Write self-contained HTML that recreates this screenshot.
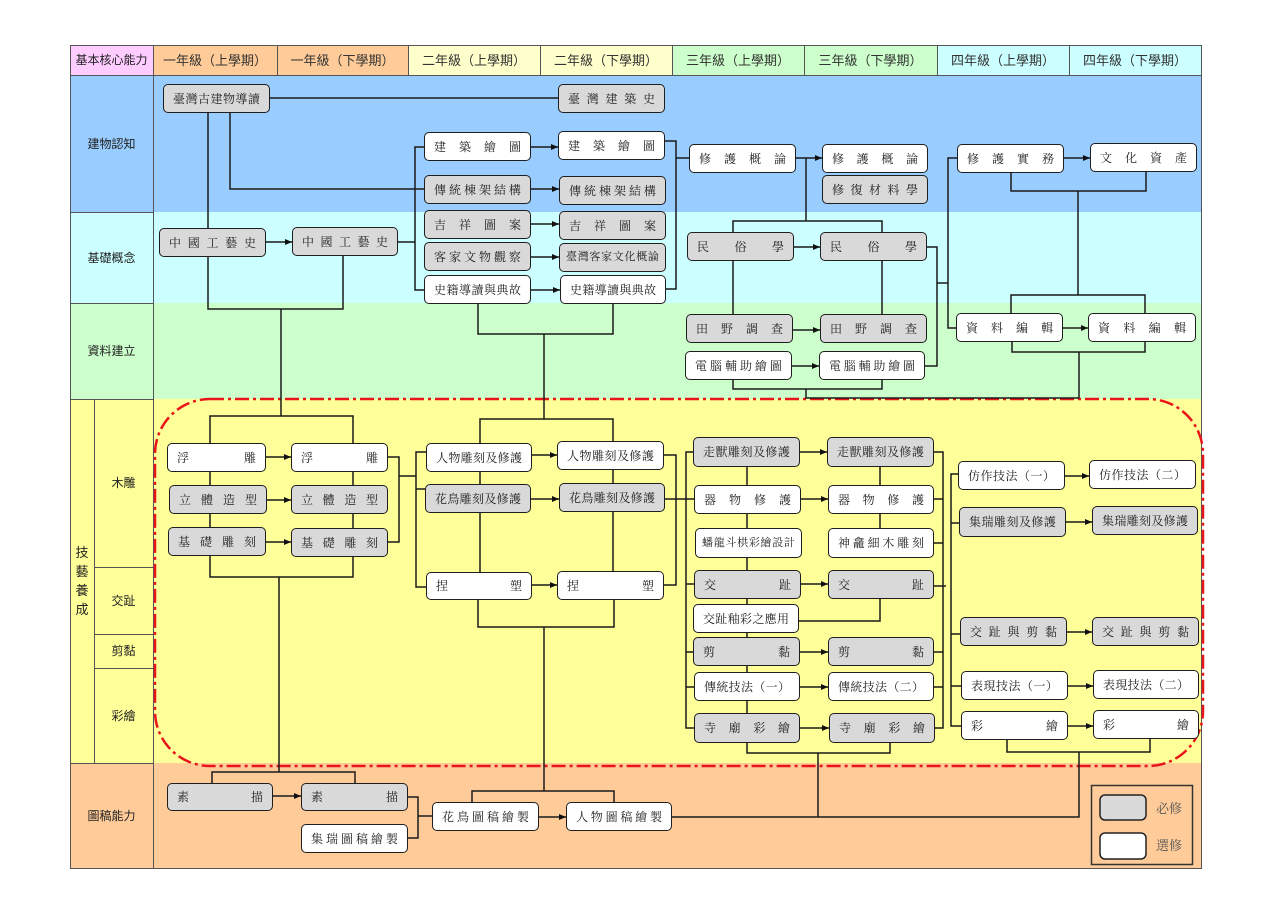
<!DOCTYPE html>
<html><head><meta charset="utf-8">
<style>
html,body{margin:0;padding:0;background:#fff;}
body{width:1280px;height:905px;position:relative;overflow:hidden;}
svg{position:absolute;left:0;top:0;}
.n{position:absolute;box-sizing:border-box;border:1.5px solid #1e1e1e;border-radius:5px;display:flex;justify-content:space-between;align-items:center;padding:0 9px;font-size:12px;font-family:"Liberation Serif","Noto Serif CJK SC",serif;color:#222;line-height:1;}
.n i{font-style:normal;}
.g{background:#d9d9d9;}
.w{background:#fff;}
.s{padding:0 6px;font-size:11px;}
.l{position:absolute;display:flex;align-items:center;justify-content:center;font-family:"Liberation Sans","Noto Sans CJK TC",sans-serif;color:#222;font-size:12px;line-height:1;}
.h{font-size:13px;color:#333;}
</style></head><body>
<svg width="1280" height="905" viewBox="0 0 1280 905">
<defs><marker id="a" markerWidth="8" markerHeight="8" refX="7" refY="4" orient="auto" markerUnits="userSpaceOnUse"><path d="M0,1 L7,4 L0,7z" fill="#111"/></marker></defs>
<rect x="70" y="45" width="83" height="30" fill="#ffccff"/>
<rect x="153" y="45" width="255" height="30" fill="#ffcc99"/>
<rect x="408" y="45" width="264" height="30" fill="#ffffcc"/>
<rect x="672" y="45" width="265" height="30" fill="#ccffcc"/>
<rect x="937" y="45" width="264" height="30" fill="#ccffff"/>
<rect x="70" y="75" width="1131" height="137" fill="#99ccff"/>
<rect x="70" y="212" width="1131" height="91" fill="#ccffff"/>
<rect x="70" y="303" width="1131" height="96" fill="#ccffcc"/>
<rect x="70" y="399" width="1131" height="364" fill="#ffff99"/>
<rect x="70" y="763" width="1131" height="105" fill="#ffcc99"/>
<g stroke="#555" stroke-width="1" fill="none">
<rect x="70.5" y="45.5" width="1131" height="823"/>
<path d="M70,75.5H1201 M153.5,45V868 M277.5,45V75 M408.5,45V75 M540.5,45V75 M672.5,45V75 M804.5,45V75 M937.5,45V75 M1069.5,45V75 M70,212.5H153 M70,303.5H153 M70,399.5H153 M70,763.5H153 M94.5,399V763 M94,567.5H153 M94,634.5H153 M94,668.5H153"/>
</g>
<rect x="155" y="399" width="1048" height="367" rx="55" fill="none" stroke="#e8161b" stroke-width="2.5" stroke-dasharray="14 4 3 4"/>
<g stroke="#1a1a1a" stroke-width="1.5" fill="none">
<path d="M270,98H558 M208,113V228 M230,113V189H424 M398,242H415 M424,147H415V290H424 M665,141H676V289H666 M676,158H689 M806,158V221 M733,232V221H882V232 M733,261V314 M882,261V314 M733,380V389H882V380 M806,389V398H1079 M1012,342V352H1145V342 M1079,352V398 M927,247H937V366H925 M937,283H948 M957,158H948V328H956 M1011,173V191H1146V172 M1078,191V295 M1011,313V295H1145V313"/>
<path d="M208,257V309H343V256 M281,309V416 M210,443V416H353V443 M210,472V527 M353,472V528 M210,556V577H353V557 M279,577V772 M212,783V772H355V783 M388,457H399V542H388 M399,476H416 M426,452H416V587H426 M416,489H425 M480,472V572 M613,470V571 M478,304V334H613V304 M544,334V419 M480,443V419H613V441 M478,600V627H614V600 M544,627V791 M472,802V791H614V802"/>
<path d="M664,455H676V585H664 M665,499H694 M693,452H686V728H694 M686,584H694 M686,652H693 M686,687H694 M747,467V713 M880,467V528 M880,599V621H799 M747,743V753H890V743 M818,753V817 M672,817H1079V752 M1007,740V752H1150V739 M934,452H943V728H935 M934,499H943 M934,543H943 M934,586H946 M934,652H943 M934,687H943 M958,474H951V726H961 M951,523H959 M951,634H960 M951,686H961 M408,797H418V838H408 M418,816H432"/>
</g>
<g stroke="#1a1a1a" stroke-width="1.5" fill="none">
<path marker-end="url(#a)" d="M266,242H292"/>
<path marker-end="url(#a)" d="M531,147H558"/>
<path marker-end="url(#a)" d="M531,189H559"/>
<path marker-end="url(#a)" d="M531,224H559"/>
<path marker-end="url(#a)" d="M531,257H559"/>
<path marker-end="url(#a)" d="M531,290H560"/>
<path marker-end="url(#a)" d="M796,158H822"/>
<path marker-end="url(#a)" d="M794,247H820"/>
<path marker-end="url(#a)" d="M793,330H820"/>
<path marker-end="url(#a)" d="M792,366H819"/>
<path marker-end="url(#a)" d="M1064,158H1090"/>
<path marker-end="url(#a)" d="M1063,328H1088"/>
<path marker-end="url(#a)" d="M266,457H291"/>
<path marker-end="url(#a)" d="M267,500H291"/>
<path marker-end="url(#a)" d="M266,542H291"/>
<path marker-end="url(#a)" d="M532,455H557"/>
<path marker-end="url(#a)" d="M531,499H559"/>
<path marker-end="url(#a)" d="M532,585H557"/>
<path marker-end="url(#a)" d="M800,452H827"/>
<path marker-end="url(#a)" d="M801,499H828"/>
<path marker-end="url(#a)" d="M801,584H828"/>
<path marker-end="url(#a)" d="M800,652H828"/>
<path marker-end="url(#a)" d="M800,687H828"/>
<path marker-end="url(#a)" d="M800,728H829"/>
<path marker-end="url(#a)" d="M1065,476H1089"/>
<path marker-end="url(#a)" d="M1066,522H1092"/>
<path marker-end="url(#a)" d="M1067,632H1092"/>
<path marker-end="url(#a)" d="M1068,686H1093"/>
<path marker-end="url(#a)" d="M1068,726H1093"/>
<path marker-end="url(#a)" d="M273,796H301"/>
<path marker-end="url(#a)" d="M539,817H566"/>
</g>
<rect x="1091.5" y="785.5" width="101" height="79" fill="none" stroke="#333" stroke-width="1.5"/>
<rect x="1100" y="795" width="46" height="25" rx="5" fill="#d9d9d9" stroke="#222" stroke-width="1.5"/>
<rect x="1100" y="833" width="46" height="26" rx="5" fill="#fff" stroke="#222" stroke-width="1.5"/>
</svg>

<!-- header -->
<div class="l" style="left:70px;top:45px;width:83px;height:30px;">基本核心能力</div>
<div class="l h" style="left:153px;top:45px;width:124px;height:30px;">一年級（上學期）</div>
<div class="l h" style="left:277px;top:45px;width:131px;height:30px;">一年級（下學期）</div>
<div class="l h" style="left:408px;top:45px;width:132px;height:30px;">二年級（上學期）</div>
<div class="l h" style="left:540px;top:45px;width:132px;height:30px;">二年級（下學期）</div>
<div class="l h" style="left:672px;top:45px;width:132px;height:30px;">三年級（上學期）</div>
<div class="l h" style="left:804px;top:45px;width:133px;height:30px;">三年級（下學期）</div>
<div class="l h" style="left:937px;top:45px;width:132px;height:30px;">四年級（上學期）</div>
<div class="l h" style="left:1069px;top:45px;width:132px;height:30px;">四年級（下學期）</div>

<!-- left labels -->
<div class="l" style="left:70px;top:75px;width:83px;height:137px;">建物認知</div>
<div class="l" style="left:70px;top:212px;width:83px;height:91px;">基礎概念</div>
<div class="l" style="left:70px;top:303px;width:83px;height:96px;">資料建立</div>
<div class="l" style="left:70px;top:399px;width:24px;height:364px;font-size:13px;line-height:19px;text-align:center;">技<br>藝<br>養<br>成</div>
<div class="l" style="left:94px;top:399px;width:59px;height:168px;">木雕</div>
<div class="l" style="left:94px;top:567px;width:59px;height:67px;">交趾</div>
<div class="l" style="left:94px;top:634px;width:59px;height:34px;">剪黏</div>
<div class="l" style="left:94px;top:668px;width:59px;height:95px;">彩繪</div>
<div class="l" style="left:70px;top:763px;width:83px;height:105px;">圖稿能力</div>

<!-- legend -->
<div class="l" style="left:1150px;top:797px;width:38px;height:22px;font-family:'Liberation Serif','Noto Serif CJK SC',serif;font-size:13px;color:#555;">必修</div>
<div class="l" style="left:1150px;top:834px;width:38px;height:22px;font-family:'Liberation Serif','Noto Serif CJK SC',serif;font-size:13px;color:#555;">選修</div>

<!-- 建物認知 -->
<div class="n g" style="left:163px;top:84px;width:107px;height:29px;"><i>臺</i><i>灣</i><i>古</i><i>建</i><i>物</i><i>導</i><i>讀</i></div>
<div class="n g" style="left:558px;top:84px;width:107px;height:29px;"><i>臺</i><i>灣</i><i>建</i><i>築</i><i>史</i></div>
<div class="n w" style="left:424px;top:132px;width:107px;height:29px;"><i>建</i><i>築</i><i>繪</i><i>圖</i></div>
<div class="n w" style="left:558px;top:131px;width:107px;height:29px;"><i>建</i><i>築</i><i>繪</i><i>圖</i></div>
<div class="n g" style="left:424px;top:175px;width:107px;height:29px;"><i>傳</i><i>統</i><i>棟</i><i>架</i><i>結</i><i>構</i></div>
<div class="n g" style="left:559px;top:176px;width:107px;height:29px;"><i>傳</i><i>統</i><i>棟</i><i>架</i><i>結</i><i>構</i></div>
<div class="n w" style="left:689px;top:144px;width:107px;height:29px;"><i>修</i><i>護</i><i>概</i><i>論</i></div>
<div class="n w" style="left:822px;top:144px;width:106px;height:29px;"><i>修</i><i>護</i><i>概</i><i>論</i></div>
<div class="n g" style="left:822px;top:175px;width:106px;height:29px;"><i>修</i><i>復</i><i>材</i><i>料</i><i>學</i></div>
<div class="n w" style="left:957px;top:144px;width:107px;height:29px;"><i>修</i><i>護</i><i>實</i><i>務</i></div>
<div class="n w" style="left:1090px;top:143px;width:107px;height:29px;"><i>文</i><i>化</i><i>資</i><i>產</i></div>

<!-- 基礎概念 -->
<div class="n g" style="left:159px;top:228px;width:107px;height:29px;"><i>中</i><i>國</i><i>工</i><i>藝</i><i>史</i></div>
<div class="n g" style="left:292px;top:227px;width:106px;height:29px;"><i>中</i><i>國</i><i>工</i><i>藝</i><i>史</i></div>
<div class="n g" style="left:424px;top:210px;width:107px;height:29px;"><i>吉</i><i>祥</i><i>圖</i><i>案</i></div>
<div class="n g" style="left:559px;top:211px;width:107px;height:29px;"><i>吉</i><i>祥</i><i>圖</i><i>案</i></div>
<div class="n g" style="left:424px;top:242px;width:107px;height:29px;"><i>客</i><i>家</i><i>文</i><i>物</i><i>觀</i><i>察</i></div>
<div class="n g s" style="left:559px;top:243px;width:107px;height:29px;"><i>臺</i><i>灣</i><i>客</i><i>家</i><i>文</i><i>化</i><i>概</i><i>論</i></div>
<div class="n w" style="left:424px;top:275px;width:107px;height:29px;"><i>史</i><i>籍</i><i>導</i><i>讀</i><i>與</i><i>典</i><i>故</i></div>
<div class="n w" style="left:560px;top:275px;width:106px;height:29px;"><i>史</i><i>籍</i><i>導</i><i>讀</i><i>與</i><i>典</i><i>故</i></div>
<div class="n g" style="left:687px;top:232px;width:107px;height:29px;"><i>民</i><i>俗</i><i>學</i></div>
<div class="n g" style="left:820px;top:232px;width:107px;height:29px;"><i>民</i><i>俗</i><i>學</i></div>

<!-- 資料建立 -->
<div class="n g" style="left:686px;top:314px;width:107px;height:29px;"><i>田</i><i>野</i><i>調</i><i>查</i></div>
<div class="n g" style="left:820px;top:314px;width:107px;height:29px;"><i>田</i><i>野</i><i>調</i><i>查</i></div>
<div class="n w" style="left:685px;top:351px;width:107px;height:29px;"><i>電</i><i>腦</i><i>輔</i><i>助</i><i>繪</i><i>圖</i></div>
<div class="n w" style="left:819px;top:351px;width:106px;height:29px;"><i>電</i><i>腦</i><i>輔</i><i>助</i><i>繪</i><i>圖</i></div>
<div class="n w" style="left:956px;top:313px;width:107px;height:29px;"><i>資</i><i>料</i><i>編</i><i>輯</i></div>
<div class="n w" style="left:1088px;top:313px;width:108px;height:29px;"><i>資</i><i>料</i><i>編</i><i>輯</i></div>

<!-- 技藝養成 -->
<div class="n w" style="left:167px;top:443px;width:99px;height:29px;"><i>浮</i><i>雕</i></div>
<div class="n w" style="left:291px;top:443px;width:97px;height:29px;"><i>浮</i><i>雕</i></div>
<div class="n g" style="left:169px;top:485px;width:98px;height:29px;"><i>立</i><i>體</i><i>造</i><i>型</i></div>
<div class="n g" style="left:291px;top:485px;width:97px;height:29px;"><i>立</i><i>體</i><i>造</i><i>型</i></div>
<div class="n g" style="left:168px;top:527px;width:98px;height:29px;"><i>基</i><i>礎</i><i>雕</i><i>刻</i></div>
<div class="n g" style="left:291px;top:528px;width:97px;height:29px;"><i>基</i><i>礎</i><i>雕</i><i>刻</i></div>
<div class="n w" style="left:426px;top:443px;width:106px;height:29px;"><i>人</i><i>物</i><i>雕</i><i>刻</i><i>及</i><i>修</i><i>護</i></div>
<div class="n w" style="left:557px;top:441px;width:107px;height:29px;"><i>人</i><i>物</i><i>雕</i><i>刻</i><i>及</i><i>修</i><i>護</i></div>
<div class="n g" style="left:425px;top:484px;width:106px;height:29px;"><i>花</i><i>鳥</i><i>雕</i><i>刻</i><i>及</i><i>修</i><i>護</i></div>
<div class="n g" style="left:559px;top:483px;width:106px;height:29px;"><i>花</i><i>鳥</i><i>雕</i><i>刻</i><i>及</i><i>修</i><i>護</i></div>
<div class="n w" style="left:426px;top:572px;width:106px;height:28px;"><i>捏</i><i>塑</i></div>
<div class="n w" style="left:557px;top:571px;width:107px;height:29px;"><i>捏</i><i>塑</i></div>

<div class="n g" style="left:693px;top:437px;width:107px;height:30px;"><i>走</i><i>獸</i><i>雕</i><i>刻</i><i>及</i><i>修</i><i>護</i></div>
<div class="n g" style="left:827px;top:437px;width:107px;height:30px;"><i>走</i><i>獸</i><i>雕</i><i>刻</i><i>及</i><i>修</i><i>護</i></div>
<div class="n w" style="left:694px;top:485px;width:107px;height:29px;"><i>器</i><i>物</i><i>修</i><i>護</i></div>
<div class="n w" style="left:828px;top:485px;width:106px;height:29px;"><i>器</i><i>物</i><i>修</i><i>護</i></div>
<div class="n w s" style="left:695px;top:528px;width:107px;height:30px;"><i>蟠</i><i>龍</i><i>斗</i><i>栱</i><i>彩</i><i>繪</i><i>設</i><i>計</i></div>
<div class="n w" style="left:828px;top:528px;width:106px;height:30px;"><i>神</i><i>龕</i><i>細</i><i>木</i><i>雕</i><i>刻</i></div>
<div class="n g" style="left:694px;top:570px;width:107px;height:29px;"><i>交</i><i>趾</i></div>
<div class="n g" style="left:828px;top:570px;width:106px;height:29px;"><i>交</i><i>趾</i></div>
<div class="n w" style="left:693px;top:604px;width:106px;height:29px;"><i>交</i><i>趾</i><i>釉</i><i>彩</i><i>之</i><i>應</i><i>用</i></div>
<div class="n g" style="left:693px;top:637px;width:107px;height:29px;"><i>剪</i><i>黏</i></div>
<div class="n g" style="left:828px;top:637px;width:106px;height:29px;"><i>剪</i><i>黏</i></div>
<div class="n w" style="left:694px;top:672px;width:106px;height:29px;"><i>傳</i><i>統</i><i>技</i><i>法</i><i>（</i><i>一</i><i>）</i></div>
<div class="n w" style="left:828px;top:672px;width:106px;height:29px;"><i>傳</i><i>統</i><i>技</i><i>法</i><i>（</i><i>二</i><i>）</i></div>
<div class="n g" style="left:694px;top:713px;width:106px;height:30px;"><i>寺</i><i>廟</i><i>彩</i><i>繪</i></div>
<div class="n g" style="left:829px;top:713px;width:106px;height:30px;"><i>寺</i><i>廟</i><i>彩</i><i>繪</i></div>

<div class="n w" style="left:958px;top:461px;width:107px;height:29px;"><i>仿</i><i>作</i><i>技</i><i>法</i><i>（</i><i>一</i><i>）</i></div>
<div class="n w" style="left:1089px;top:460px;width:107px;height:29px;"><i>仿</i><i>作</i><i>技</i><i>法</i><i>（</i><i>二</i><i>）</i></div>
<div class="n g" style="left:959px;top:507px;width:107px;height:30px;"><i>集</i><i>瑞</i><i>雕</i><i>刻</i><i>及</i><i>修</i><i>護</i></div>
<div class="n g" style="left:1092px;top:506px;width:106px;height:29px;"><i>集</i><i>瑞</i><i>雕</i><i>刻</i><i>及</i><i>修</i><i>護</i></div>
<div class="n g" style="left:960px;top:617px;width:107px;height:29px;"><i>交</i><i>趾</i><i>與</i><i>剪</i><i>黏</i></div>
<div class="n g" style="left:1092px;top:617px;width:107px;height:29px;"><i>交</i><i>趾</i><i>與</i><i>剪</i><i>黏</i></div>
<div class="n w" style="left:961px;top:671px;width:107px;height:29px;"><i>表</i><i>現</i><i>技</i><i>法</i><i>（</i><i>一</i><i>）</i></div>
<div class="n w" style="left:1093px;top:670px;width:106px;height:29px;"><i>表</i><i>現</i><i>技</i><i>法</i><i>（</i><i>二</i><i>）</i></div>
<div class="n w" style="left:961px;top:711px;width:107px;height:29px;"><i>彩</i><i>繪</i></div>
<div class="n w" style="left:1093px;top:710px;width:106px;height:29px;"><i>彩</i><i>繪</i></div>

<!-- 圖稿能力 -->
<div class="n g" style="left:167px;top:783px;width:106px;height:28px;"><i>素</i><i>描</i></div>
<div class="n g" style="left:301px;top:783px;width:107px;height:28px;"><i>素</i><i>描</i></div>
<div class="n w" style="left:301px;top:824px;width:107px;height:29px;"><i>集</i><i>瑞</i><i>圖</i><i>稿</i><i>繪</i><i>製</i></div>
<div class="n w" style="left:432px;top:802px;width:107px;height:29px;"><i>花</i><i>鳥</i><i>圖</i><i>稿</i><i>繪</i><i>製</i></div>
<div class="n w" style="left:566px;top:802px;width:106px;height:29px;"><i>人</i><i>物</i><i>圖</i><i>稿</i><i>繪</i><i>製</i></div>
</body></html>
